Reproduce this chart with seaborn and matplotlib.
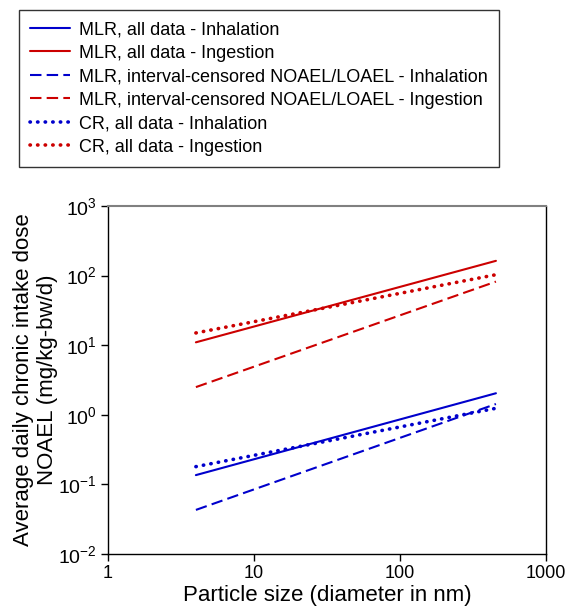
import matplotlib
matplotlib.use("Agg")
import matplotlib.pyplot as plt
import numpy as np
import pandas as pd
import seaborn as sns

# particle size end points (nm)
size_nm = [4, 454]

# NOAEL values at the two end points (mg/kg-bw/d)
mlr_all_inh = [0.136, 2.04]
mlr_all_ing = [11.0, 163.0]
mlr_ic_inh = [0.043, 1.43]
mlr_ic_ing = [2.5, 82.0]
cr_all_inh = [0.18, 1.24]
cr_all_ing = [15.0, 103.0]

labels = [
    "MLR, all data - Inhalation",
    "MLR, all data - Ingestion",
    "MLR, interval-censored NOAEL/LOAEL - Inhalation",
    "MLR, interval-censored NOAEL/LOAEL - Ingestion",
    "CR, all data - Inhalation",
    "CR, all data - Ingestion",
]
values = [mlr_all_inh, mlr_all_ing, mlr_ic_inh, mlr_ic_ing, cr_all_inh, cr_all_ing]

blue = "#0000CC"
red = "#CC0000"
colors = [blue, red, blue, red, blue, red]
dotted = (0, (0.1, 2.0))
dashed = (0, (5.5, 2.5))
styles = ["-", "-", dashed, dashed, dotted, dotted]
widths = [1.5, 1.5, 1.5, 1.5, 2.6, 2.6]

sns.set_style("ticks")
plt.rcParams["font.family"] = ["Liberation Sans", "DejaVu Sans"]
plt.rcParams["mathtext.fontset"] = "custom"
plt.rcParams["mathtext.rm"] = "Liberation Sans"
plt.rcParams["mathtext.it"] = "Liberation Sans"
plt.rcParams["mathtext.default"] = "rm"
plt.rcParams["text.color"] = "black"
plt.rcParams["axes.labelcolor"] = "black"
plt.rcParams["xtick.color"] = "black"
plt.rcParams["ytick.color"] = "black"

fig = plt.figure(figsize=(5.71, 6.12), dpi=100)
ax = fig.add_axes([108 / 571, 1 - 554 / 612, 438 / 571, 348 / 612])

for lab, vals, c, ls, lw in zip(labels, values, colors, styles, widths):
    # straight line in log-log space between the two end points
    xs = np.logspace(np.log10(size_nm[0]), np.log10(size_nm[1]), 50)
    slope = (np.log10(vals[1]) - np.log10(vals[0])) / (np.log10(size_nm[1]) - np.log10(size_nm[0]))
    ys = 10 ** (np.log10(vals[0]) + slope * (np.log10(xs) - np.log10(size_nm[0])))
    df = pd.DataFrame({"x": xs, "y": ys})
    sns.lineplot(data=df, x="x", y="y", ax=ax, color=c, lw=lw, legend=False)
    ln = ax.lines[-1]
    ln.set_linestyle(ls)
    if ls == dotted:
        ln.set_dash_capstyle("round")

ax.set_xscale("log")
ax.set_yscale("log")
ax.set_xlim(1, 1000)
ax.set_ylim(1e-2, 1e3)
ax.minorticks_off()
ax.set_xticks([1, 10, 100, 1000])
ax.set_xticklabels(["1", "10", "100", "1000"])
yt = [-2, -1, 0, 1, 2, 3]
ax.set_yticks([10.0 ** e for e in yt])
ax.set_yticklabels([f"$10^{{{e}}}$" for e in yt])
ax.tick_params(length=5, width=1, color="black", labelcolor="black", direction="out")
ax.tick_params(axis="x", labelsize=13, pad=3)
ax.tick_params(axis="y", labelsize=14, pad=3)
ax.set_xlabel("Particle size (diameter in nm)", fontsize=16, labelpad=2, color="black")
ax.set_ylabel("Average daily chronic intake dose\nNOAEL (mg/kg-bw/d)", fontsize=16, labelpad=0,
              color="black")
for side in ["left", "right", "bottom"]:
    ax.spines[side].set_color("black")
    ax.spines[side].set_linewidth(1)
ax.spines["top"].set_color("#808080")
ax.spines["top"].set_linewidth(1.5)

handles = ax.get_lines()
leg = fig.legend(handles, labels, loc="upper left", bbox_to_anchor=(19 / 571, 1 - 10 / 612),
                 borderaxespad=0, fontsize=13, frameon=True, fancybox=False, edgecolor="black",
                 handlelength=2.2, handletextpad=0.5, labelspacing=0.36, borderpad=0.62,
                 labelcolor="black")
leg.get_frame().set_linewidth(1)

fig.savefig("out.png", dpi=100)
